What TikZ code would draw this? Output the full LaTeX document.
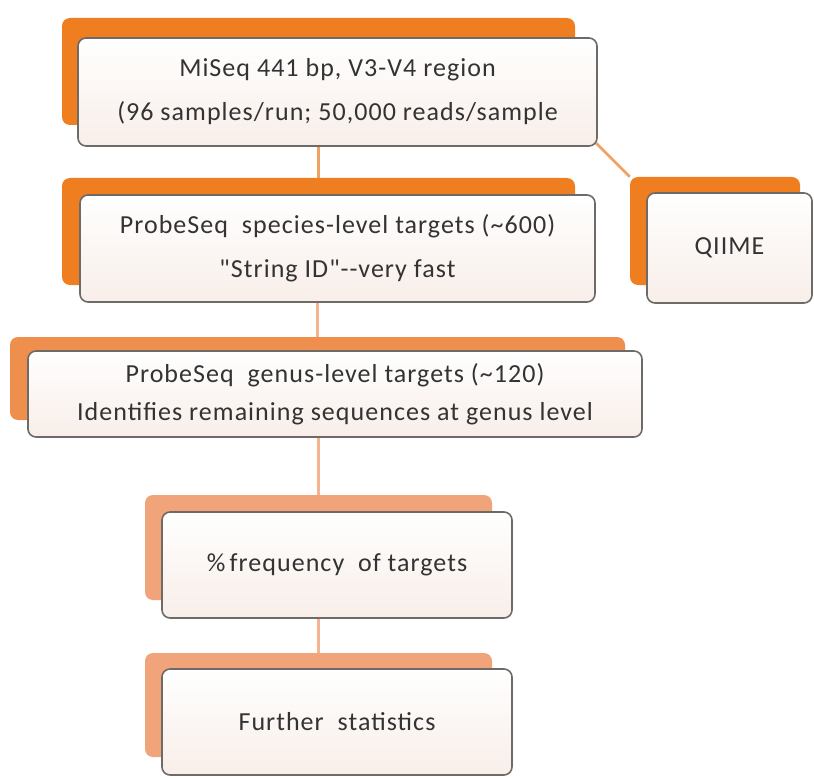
\documentclass[tikz,border=0pt]{standalone}
\usepackage{fontspec}
\setmainfont{Carlito}[LetterSpace=4]
\newfontfamily\boxfont{Carlito}[LetterSpace=4]
\definecolor{orA}{HTML}{EE7E1F}
\definecolor{orAd}{HTML}{E27418}
\definecolor{orB}{HTML}{EE8F4E}
\definecolor{orC}{HTML}{F1A47A}
\definecolor{lnA}{HTML}{F0A060}
\definecolor{lnB}{HTML}{F4B48E}
\definecolor{frontfill}{HTML}{F8EEE9}
\definecolor{frame}{HTML}{6E6A68}
\tikzset{
  backbox/.style={rounded corners=8pt, inner sep=0pt, draw=none, fill=#1},
  frontbox/.style={rounded corners=8pt, inner sep=0pt, draw=frame, line width=1.6pt,
     top color=white, bottom color=frontfill, align=center,
     font=\boxfont\fontsize{26}{44}\selectfont, text=black!80},
  link/.style={line width=2.5pt, draw=#1},
}
\begin{document}
\begin{tikzpicture}[x=1pt,y=-1pt]
\useasboundingbox (0,0) rectangle (814,778);
% back boxes
\node[backbox=orA, minimum width=513pt, minimum height=107pt] (b1) at (318.5,71.5) {};
\node[backbox=orA, minimum width=513pt, minimum height=107pt] (b2) at (318.5,231.5) {};
\node[backbox=orA, minimum width=170pt, minimum height=108pt] (bq) at (715,231) {};
\node[backbox=orB, minimum width=615pt, minimum height=83pt] (b3) at (317.5,378.5) {};
\node[backbox=orC, minimum width=347pt, minimum height=105pt] (b4) at (318.5,547.5) {};
\node[backbox=orC, minimum width=347pt, minimum height=104pt] (b5) at (318.5,705) {};
% connectors (behind front boxes)
\coordinate (qstart) at (596,143);
\draw[link=lnA] (qstart) -- (bq.north west);
% front boxes
\node[frontbox, minimum width=519pt, minimum height=108pt] (f1) at (337.5,92)
  {MiSeq 441 bp, V3-V4 region\\(96 samples/run; 50,000 reads/sample};
\node[frontbox, minimum width=515pt, minimum height=107pt] (f2) at (337.5,248.5)
  {ProbeSeq\ \ species-level targets (\textasciitilde 600)\\"String ID"--very fast};
\node[frontbox, minimum width=165pt, minimum height=110pt] (fq) at (729.5,248)
  {QIIME};
\node[frontbox, minimum width=614pt, minimum height=86pt, font=\boxfont\fontsize{26}{38}\selectfont] (f3) at (335,394)
  {ProbeSeq\ \ genus-level targets (\textasciitilde 120)\\Identifies remaining sequences at genus level};
\node[frontbox, minimum width=350pt, minimum height=106pt] (f4) at (337,565)
  {\%\,frequency\ \ of targets};
\node[frontbox, minimum width=350pt, minimum height=106pt] (f5) at (337,722)
  {Further\ \ statistics};
% vertical connectors
\draw[link=lnA] (f1.south -| b2.north) -- (b2.north);
\draw[link=lnB] (f2.south -| b3.north) -- (b3.north);
\draw[link=lnB] (f3.south -| b4.north) -- (b4.north);
\draw[link=lnB] (f4.south -| b5.north) -- (b5.north);
\end{tikzpicture}
\end{document}
